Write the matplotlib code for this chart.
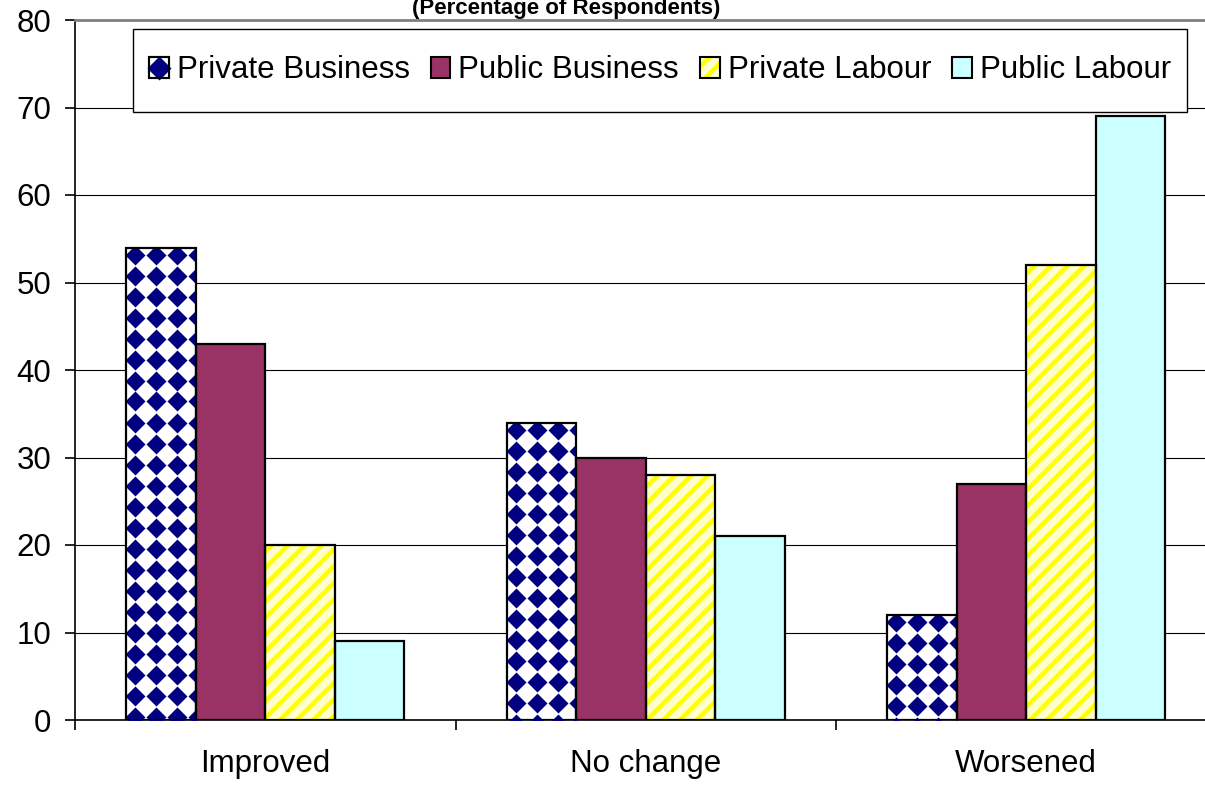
import numpy as np
import matplotlib
matplotlib.use("Agg")
import matplotlib.pyplot as plt
from matplotlib.patches import Patch, Rectangle
from matplotlib.lines import Line2D
from matplotlib.legend_handler import HandlerTuple

plt.rcParams['font.family'] = ['Liberation Sans', 'DejaVu Sans']
plt.rcParams['hatch.linewidth'] = 3.2

# data
categories = ["Improved", "No change", "Worsened"]
series = ["Private Business", "Public Business", "Private Labour", "Public Labour"]
private_business = [54, 34, 12]
public_business = [43, 30, 27]
private_labour = [20, 28, 52]
public_labour = [9, 21, 69]

navy = "#000080"
plum = "#993366"
pale_yellow = "#FFFFCC"
yellow = "#FFFF00"
pale_cyan = "#CCFFFF"

W, H = 1205, 786
fig = plt.figure(figsize=(W / 100, H / 100), dpi=100)
ax_w_px, ax_h_px = 1141.5, 700
ax = fig.add_axes([75 / W, 66 / H, ax_w_px / W, ax_h_px / H])
ax.set_xlim(0, 3)
ax.set_ylim(0, 80)

x = np.arange(len(categories)) + 0.5
bar_w = 0.1827
offsets = (np.arange(4) - 1.5) * bar_w

# Private Business: white bars with a navy diamond pattern clipped inside
pb_bars = ax.bar(x + offsets[0], private_business, bar_w, color="white",
                 edgecolor="none", zorder=2)
px_x = 3 / ax_w_px
px_y = 80 / ax_h_px
for rect in pb_bars:
    left = rect.get_x()
    top = rect.get_height()
    n_rows = int(top / px_y / 21) + 2
    xs = left + (9 + 21 * np.arange(4)) * px_x
    ys = top - (7 + 21 * np.arange(n_rows)) * px_y
    gx, gy = np.meshgrid(xs, ys)
    ln, = ax.plot(gx.ravel(), gy.ravel(), linestyle="none", marker="D",
                  ms=10.2, color=navy, mec="none", zorder=3)
    ln.set_clip_path(rect)

ax.bar(x + offsets[1], public_business, bar_w, color=plum, edgecolor="none", zorder=2)
ax.bar(x + offsets[2], private_labour, bar_w, color=pale_yellow, edgecolor=yellow,
       hatch="//", linewidth=0, zorder=2)
ax.bar(x + offsets[3], public_labour, bar_w, color=pale_cyan, edgecolor="none", zorder=2)

# black outlines on top of all bars
for off, vals in zip(offsets, [private_business, public_business, private_labour, public_labour]):
    ax.bar(x + off, vals, bar_w, fill=False, edgecolor="black", linewidth=1.6, zorder=4)

# grid and spines
ax.set_axisbelow(True)
ax.set_yticks(range(0, 81, 10))
ax.yaxis.grid(True, color="black", linewidth=0.8)
ax.spines['top'].set_color("#808080")
ax.spines['top'].set_linewidth(2)
ax.spines['right'].set_visible(False)
ax.spines['left'].set_linewidth(1.2)
ax.spines['bottom'].set_linewidth(1.2)

ax.set_xticks([0, 1, 2, 3])
ax.set_xticklabels([])
ax.set_xticks(x, minor=True)
ax.set_xticklabels(categories, minor=True)
ax.tick_params(axis='x', which='major', length=7, width=1.2, direction='out')
ax.tick_params(axis='x', which='minor', length=0, pad=21, labelsize=22.5)
ax.tick_params(axis='y', length=7, width=1.2, direction='out', pad=10, labelsize=22.5)

fig.text(566.5 / W, 1 - 14 / H, "(Percentage of Respondents)", ha='center',
         va='baseline', fontsize=16, fontweight='bold')

# legend
h_pb = (Patch(facecolor="white", edgecolor="black", linewidth=1.5),
        Line2D([], [], linestyle="none", marker="D", ms=12, color=navy, mec="none"),
        Patch(fill=False, edgecolor="black", linewidth=1.5))
h_pub = Patch(facecolor=plum, edgecolor="black", linewidth=1.5)
h_pl = (Patch(facecolor=pale_yellow, edgecolor=yellow, hatch="//", linewidth=0),
        Patch(fill=False, edgecolor="black", linewidth=1.5))
h_publ = Patch(facecolor=pale_cyan, edgecolor="black", linewidth=1.5)

fig.add_artist(Rectangle((133 / W, 1 - 112 / H), (1187 - 133) / W, 83 / H,
                         transform=fig.transFigure, facecolor="white",
                         edgecolor="black", linewidth=1, zorder=4))
fig.legend([h_pb, h_pub, h_pl, h_publ], series, loc='center',
           bbox_to_anchor=(660 / W, 1 - 70.5 / H), ncol=4, frameon=False,
           fontsize=22.5, handlelength=0.63, handleheight=0.63,
           handletextpad=0.25, columnspacing=0.68, borderpad=0,
           handler_map={tuple: HandlerTuple(ndivide=1)})

fig.savefig("out.png", dpi=100)
